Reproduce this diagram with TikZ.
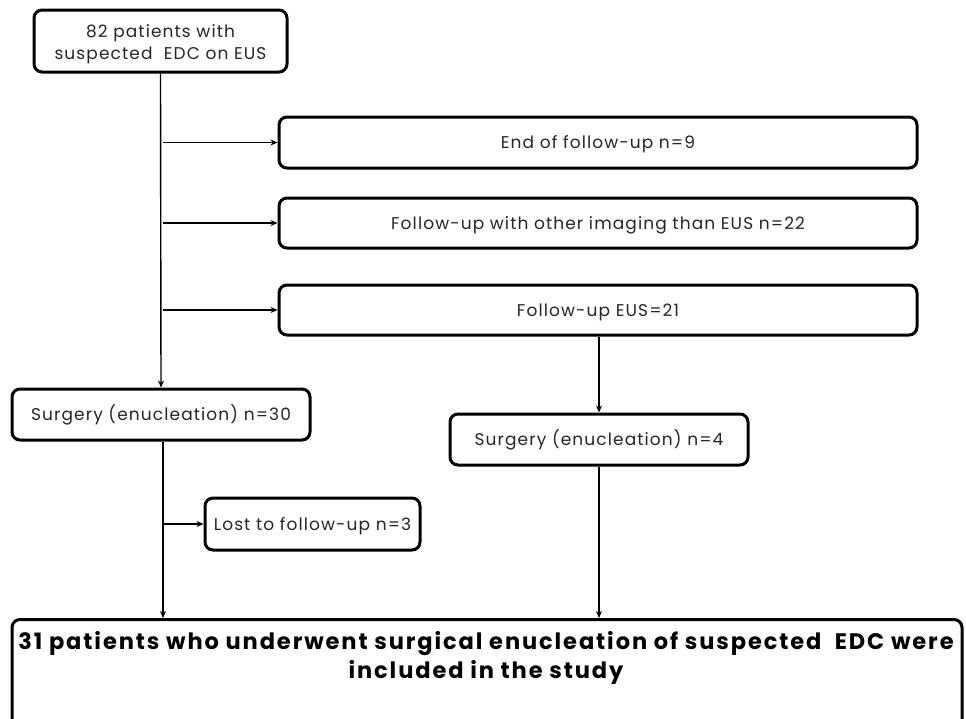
\documentclass[tikz,border=0pt]{standalone}
\usepackage{fontspec}
\setmainfont{Poppins}
\newfontfamily\regfont[LetterSpace=6.5]{Poppins}
\newfontfamily\boldfont[LetterSpace=8.5]{Poppins Bold}
\usetikzlibrary{arrows.meta}
\begin{document}
\begin{tikzpicture}[x=1pt,y=-1pt,
  box/.style={draw=black,line width=3pt,rounded corners=8pt,fill=white,inner sep=0pt,align=center,
    font=\regfont\fontsize{17}{22}\selectfont,text=black!85},
  line1/.style={text height=12pt,text depth=0pt},
  conn/.style={line width=1.4pt,-{Stealth[length=7pt,width=6pt]}}]
\useasboundingbox[fill=white] (0,0) rectangle (966,718);
\clip (0,0) rectangle (966,718);
\node[box,minimum width=253pt,minimum height=62pt] (top) at (160.5,41) {\raisebox{-3pt}[\height][\depth]{\shortstack{82 patients with\\[2pt]suspected\ \ EDC on EUS}}};
\node[box,line1,minimum width=638pt,minimum height=51pt] (end) at (598,142.5) {End of follow-up n=9};
\node[box,line1,minimum width=638pt,minimum height=50pt] (other) at (598,223) {Follow-up with other imaging than EUS n=22};
\node[box,line1,minimum width=638pt,minimum height=50pt] (eus) at (598,310) {Follow-up EUS=21};
\node[box,line1,minimum width=298pt,minimum height=51pt] (s30) at (161,414.5) {Surgery (enucleation) n=30};
\node[box,line1,minimum width=298pt,minimum height=51pt] (s4) at (599,439.5) {Surgery (enucleation) n=4};
\node[box,line1,minimum width=215pt,minimum height=52pt] (lost) at (312.5,524) {Lost to follow-up n=3};
\node[box,minimum width=950pt,minimum height=112pt,anchor=north] (final) at (487,618) {};
\node[font=\boldfont\fontsize{22.5}{29.5}\selectfont,align=center,text=black,inner sep=0pt] (finaltext) at (486,658) {31 patients who underwent surgical enucleation of suspected\ \ EDC were\\included in the study};
\coordinate (b1) at (163,142.5);
\coordinate (b2) at (163,223);
\coordinate (b3) at (163,310);
\coordinate (b4) at (163,524);
\draw[conn] (top.south) -- (s30.north);
\draw[conn] (b1) -- (end.west);
\draw[conn] (b2) -- (other.west);
\draw[conn] (b3) -- (eus.west);
\draw[conn] (eus.south -| s4.north) -- (s4.north);
\draw[conn] (b4) -- (lost.west);
\draw[conn] (s30.south -| b4) -- (final.north -| b4);
\draw[conn] (s4.south) -- (final.north -| s4.south);
\end{tikzpicture}
\end{document}
